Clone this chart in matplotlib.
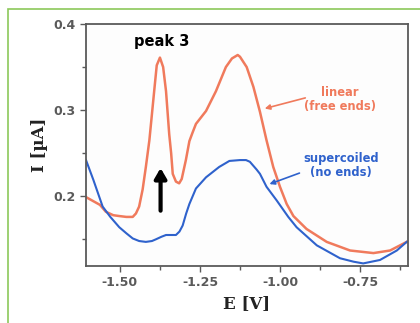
import numpy as np
import matplotlib
matplotlib.use("Agg")
import matplotlib.pyplot as plt
from matplotlib.patches import Rectangle

# linear DNA (free ends)
lin_E = [-1.606, -1.5625, -1.544, -1.521, -1.502, -1.480, -1.460, -1.450, -1.440, -1.429,
         -1.419, -1.408, -1.393, -1.385, -1.375, -1.365, -1.356, -1.346, -1.340, -1.335,
         -1.325, -1.315, -1.307, -1.294, -1.283, -1.273, -1.2625, -1.231, -1.200, -1.169,
         -1.150, -1.132, -1.125, -1.104, -1.083, -1.0625, -1.042, -1.021, -1.000, -0.979,
         -0.958, -0.917, -0.854, -0.781, -0.708, -0.656, -0.604]
lin_I = [0.199, 0.190, 0.182, 0.178, 0.177, 0.176, 0.176, 0.180, 0.188, 0.208,
         0.234, 0.265, 0.322, 0.352, 0.361, 0.350, 0.322, 0.272, 0.250, 0.226,
         0.217, 0.215, 0.220, 0.242, 0.264, 0.274, 0.284, 0.299, 0.322, 0.350,
         0.360, 0.364, 0.362, 0.350, 0.327, 0.298, 0.265, 0.234, 0.211, 0.191,
         0.177, 0.162, 0.147, 0.137, 0.134, 0.137, 0.147]

# supercoiled DNA (no ends)
sc_E = [-1.606, -1.583, -1.554, -1.530, -1.502, -1.480, -1.460, -1.440, -1.419, -1.400,
        -1.3875, -1.370, -1.356, -1.325, -1.314, -1.304, -1.293, -1.283, -1.2625, -1.231,
        -1.190, -1.158, -1.125, -1.106, -1.094, -1.073, -1.0625, -1.042, -1.010, -0.974,
        -0.948, -0.885, -0.8125, -0.770, -0.740, -0.6875, -0.635, -0.604]
sc_I = [0.242, 0.219, 0.188, 0.176, 0.164, 0.157, 0.151, 0.148, 0.147, 0.148,
        0.150, 0.153, 0.155, 0.155, 0.159, 0.166, 0.180, 0.191, 0.209, 0.222,
        0.234, 0.241, 0.242, 0.242, 0.240, 0.231, 0.226, 0.211, 0.195, 0.176,
        0.164, 0.143, 0.128, 0.124, 0.122, 0.126, 0.137, 0.147]

x_ticks = [-1.50, -1.25, -1.00, -0.75]
x_labels = ["-1.50", "-1.25", "-1.00", "-0.75"]
y_ticks = [0.2, 0.3, 0.4]
y_labels = ["0.2", "0.3", "0.4"]

red = "#f07a5c"
blue = "#2f62cc"
grey = "#5a5a5a"

fig = plt.figure(figsize=(4.2, 3.23), dpi=100)
fig.patch.set_facecolor("white")
fig.patches.append(Rectangle((8/420, -0.1), 1.2, 1 - 9/323 + 0.1, transform=fig.transFigure,
                             fill=False, edgecolor="#8cc85a", linewidth=1.2))

ax = fig.add_axes([86/420, 57/323, 322/420, 242/323])
ax.set_facecolor("#fdfdfd")
ax.plot(lin_E, lin_I, color=red, lw=1.8, solid_joinstyle="round")
ax.plot(sc_E, sc_I, color=blue, lw=1.5, solid_joinstyle="round")

ax.set_xlim(-1.606, -0.60)
ax.set_ylim(0.119, 0.40)
ax.set_xticks(x_ticks)
ax.set_xticklabels(x_labels)
ax.set_yticks(y_ticks)
ax.set_yticklabels(y_labels)
ax.set_xticks([-1.375, -1.125, -0.875, -0.625], minor=True)
ax.set_yticks([0.15, 0.25, 0.35], minor=True)
ax.tick_params(which="both", direction="out", color=grey, labelcolor=grey,
               labelsize=9, width=1)
ax.tick_params(which="major", length=4)
ax.tick_params(which="minor", length=3)
for lab in ax.get_xticklabels() + ax.get_yticklabels():
    lab.set_fontweight("bold")
for sp in ax.spines.values():
    sp.set_color(grey)
    sp.set_linewidth(1.3)

ax.set_xlabel("E [V]", family="DejaVu Serif", fontweight="bold", fontsize=12, color="#222222")
ax.set_ylabel("I [µA]", family="DejaVu Serif", fontweight="bold", fontsize=12, color="#222222")

ax.text(-1.369, 0.380, "peak 3", ha="center", va="center", fontsize=10.5,
        fontweight="bold", color="black")
ax.annotate("", xy=(-1.373, 0.236), xytext=(-1.373, 0.180),
            arrowprops=dict(arrowstyle="-|>,head_width=0.35,head_length=0.6",
                            color="black", lw=3))

ax.text(-0.8125, 0.312, "linear\n(free ends)", ha="center", va="center",
        fontsize=8.3, fontweight="bold", color=red, linespacing=1.1)
ax.annotate("", xy=(-1.056, 0.301), xytext=(-0.9125, 0.315),
            arrowprops=dict(arrowstyle="-|>,head_width=0.15,head_length=0.3",
                            color=red, lw=1.2))
ax.text(-0.809, 0.236, "supercoiled\n(no ends)", ha="center", va="center",
        fontsize=8.3, fontweight="bold", color=blue, linespacing=1.1)
ax.annotate("", xy=(-1.041, 0.213), xytext=(-0.931, 0.228),
            arrowprops=dict(arrowstyle="-|>,head_width=0.15,head_length=0.3",
                            color=blue, lw=1.2))

fig.savefig("out.png", dpi=100)
